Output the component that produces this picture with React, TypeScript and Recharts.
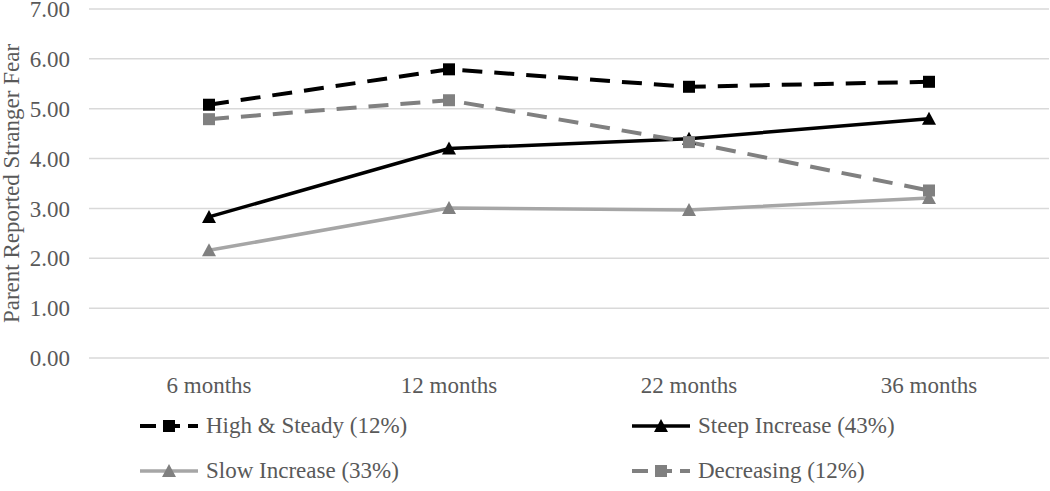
import {
  LineChart,
  Line,
  XAxis,
  YAxis,
  CartesianGrid,
  Legend,
  Label,
} from "recharts";

const months = ["6 months", "12 months", "22 months", "36 months"];
const highSteady = [5.08, 5.79, 5.44, 5.54];
const steepIncrease = [2.83, 4.2, 4.4, 4.8];
const slowIncrease = [2.16, 3.01, 2.97, 3.21];
const decreasing = [4.79, 5.17, 4.33, 3.36];
const yTicks = [0, 1, 2, 3, 4, 5, 6, 7];

const data = months.map((m, i) => ({
  month: m,
  high: highSteady[i],
  steep: steepIncrease[i],
  slow: slowIncrease[i],
  dec: decreasing[i],
}));

const FONT = "'Liberation Serif', 'Times New Roman', serif";
const TEXT = "#595959";

const Square = ({ cx, cy, fill }: any) =>
  cx == null ? null : <rect x={cx - 6} y={cy - 6} width={12} height={12} fill={fill} />;

const Triangle = ({ cx, cy, fill }: any) =>
  cx == null ? null : (
    <polygon points={`${cx},${cy - 7} ${cx + 7},${cy + 6} ${cx - 7},${cy + 6}`} fill={fill} />
  );

const series = [
  { key: "high", name: "High & Steady (12%)", stroke: "#000000", marker: "#000000", width: 4, dash: "20 12", shape: "square" },
  { key: "steep", name: "Steep Increase (43%)", stroke: "#000000", marker: "#000000", width: 3.5, dash: undefined, shape: "tri" },
  { key: "slow", name: "Slow Increase (33%)", stroke: "#A6A6A6", marker: "#808080", width: 3.5, dash: undefined, shape: "tri" },
  { key: "dec", name: "Decreasing (12%)", stroke: "#808080", marker: "#808080", width: 4, dash: "20 12", shape: "square" },
];

const legendPos = [
  { left: 140, top: 0 },
  { left: 632, top: 0 },
  { left: 140, top: 45 },
  { left: 632, top: 45 },
];

const LegendBox = () => (
  <div style={{ position: "relative", width: 1050, height: 80 }}>
    {series.map((s, i) => (
      <div
        key={s.key}
        style={{
          position: "absolute",
          left: legendPos[i].left,
          top: legendPos[i].top,
          display: "flex",
          alignItems: "center",
          fontFamily: FONT,
          fontSize: 23,
          color: TEXT,
          whiteSpace: "nowrap",
        }}
      >
        <svg width={60} height={20} style={{ marginRight: 6 }}>
          <line x1={0} y1={10} x2={58} y2={10} stroke={s.stroke} strokeWidth={s.width} strokeDasharray={s.dash ? "16 8" : undefined} />
          {s.shape === "square" ? (
            <rect x={23} y={4} width={12} height={12} fill={s.marker} />
          ) : (
            <polygon points="29,3 36,16 22,16" fill={s.marker} />
          )}
        </svg>
        {s.name}
      </div>
    ))}
  </div>
);

export default function App() {
  return (
    <div style={{ position: "absolute", left: 0, top: 0, background: "#fff" }}>
      <LineChart
        width={1050}
        height={491}
        data={data}
        margin={{ top: 9, right: 1, left: 0, bottom: 73 }}
      >
        <CartesianGrid vertical={false} stroke="#D9D9D9" strokeWidth={1.5} />
        <XAxis
          dataKey="month"
          scale="band"
          axisLine={false}
          tickLine={false}
          tickSize={0}
          tickMargin={19}
          height={60}
          tick={{ fill: TEXT, fontSize: 23, fontFamily: FONT }}
        />
        <YAxis
          width={89}
          domain={[0, 7]}
          ticks={yTicks}
          interval={0}
          axisLine={false}
          tickLine={false}
          tickSize={0}
          tickMargin={19}
          tickFormatter={(v: number) => v.toFixed(2)}
          tick={{ fill: TEXT, fontSize: 23, fontFamily: FONT }}
        >
          <Label
            content={({ viewBox }: any) => {
              const cx = viewBox.x + 11;
              const cy = viewBox.y + viewBox.height / 2;
              return (
                <text
                  x={cx}
                  y={cy}
                  transform={`rotate(-90 ${cx} ${cy})`}
                  textAnchor="middle"
                  dominantBaseline="central"
                  fill={TEXT}
                  fontSize={23}
                  fontFamily={FONT}
                >
                  Parent Reported Stranger Fear
                </text>
              );
            }}
          />
        </YAxis>
        <Legend
          layout="horizontal"
          verticalAlign="middle"
          align="center"
          wrapperStyle={{ top: 413, left: 0, width: 1050 }}
          content={() => <LegendBox />}
        />
        {series.map((s) => (
          <Line
            key={s.key}
            type="linear"
            dataKey={s.key}
            name={s.name}
            stroke={s.stroke}
            strokeWidth={s.width}
            strokeDasharray={s.dash}
            dot={s.shape === "square" ? <Square fill={s.marker} /> : <Triangle fill={s.marker} />}
            activeDot={false}
            isAnimationActive={false}
          />
        ))}
      </LineChart>
    </div>
  );
}
